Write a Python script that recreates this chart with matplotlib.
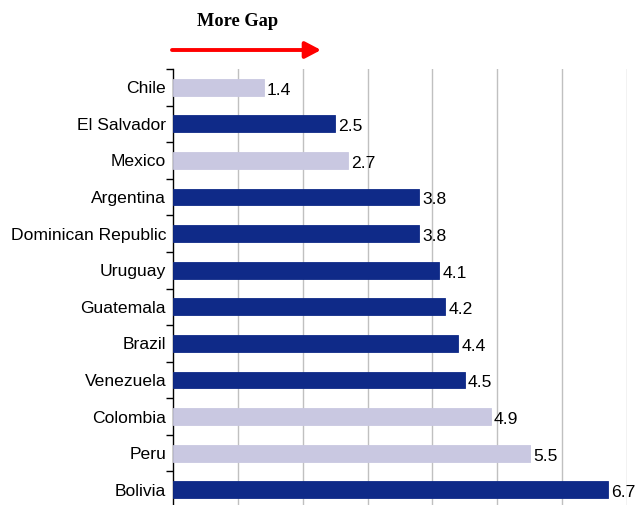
import matplotlib
matplotlib.use("Agg")
import matplotlib.pyplot as plt
import numpy as np

countries = ["Chile", "El Salvador", "Mexico", "Argentina", "Dominican Republic",
             "Uruguay", "Guatemala", "Brazil", "Venezuela", "Colombia", "Peru", "Bolivia"]
values = [1.4, 2.5, 2.7, 3.8, 3.8, 4.1, 4.2, 4.4, 4.5, 4.9, 5.5, 6.7]
highlight = [True, False, True, False, False, False, False, False, False, True, True, False]

DARK = "#0f2a88"
LIGHT = "#c9c8e1"

fig = plt.figure(figsize=(6.38, 5.05), dpi=100)
ax = fig.add_axes([173/638, -3/505, (627-173)/638, (508-69)/505])

y = np.arange(len(countries))
colors = [LIGHT if h else DARK for h in highlight]
ax.barh(y, values, height=0.46, color=colors, edgecolor=colors, linewidth=0.6, zorder=3)
for yi, v in zip(y, values):
    ax.text(v + 0.05, yi + 0.08, f"{v:.1f}", va="center", ha="left",
            fontsize=12.6, family="Liberation Sans", color="black")

ax.set_xlim(0, 7)
ax.set_ylim(len(countries) - 0.5, -0.5)
ax.set_yticks(y)
ax.set_yticklabels(countries, fontsize=12.6, family="Liberation Sans")
ax.tick_params(axis="y", which="major", length=0, pad=5)
ax.set_yticks(np.arange(-0.5, len(countries)), minor=True)
ax.tick_params(axis="y", which="minor", length=5, width=1, direction="out")
ax.set_xticks(np.arange(1, 8))
ax.tick_params(axis="x", length=0, labelbottom=False)
ax.grid(axis="x", color="#c0c0c0", linewidth=1, zorder=0)
for s in ["top", "right", "bottom"]:
    ax.spines[s].set_visible(False)
ax.spines["left"].set_linewidth(1)
ax.spines["left"].set_color("black")

fig.text(238/638, 1 - 21/505, "More Gap", ha="center", va="center",
         fontsize=13.2, fontweight="bold", family="Liberation Serif")
fig.add_artist(matplotlib.patches.FancyArrowPatch(
    (172/638, 1 - 50/505), (321/638, 1 - 50/505), transform=fig.transFigure,
    arrowstyle="-|>,head_length=9.5,head_width=5", color="red", linewidth=2.8,
    mutation_scale=1, shrinkA=0, shrinkB=0))

fig.savefig("out.png", dpi=100)
